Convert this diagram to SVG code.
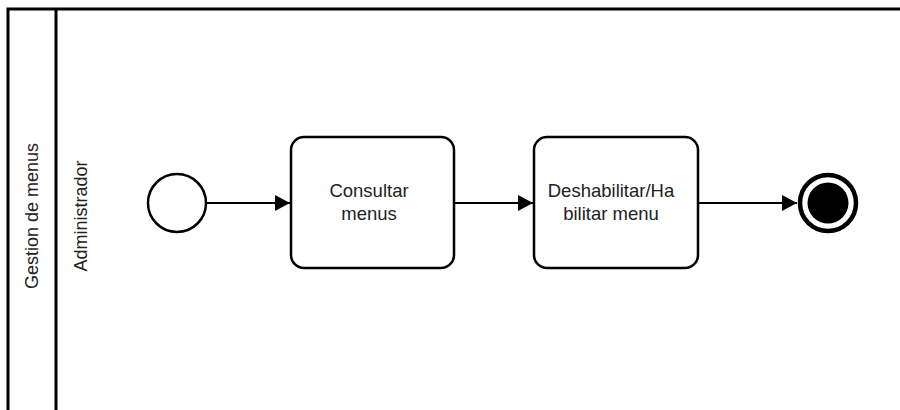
<svg xmlns="http://www.w3.org/2000/svg" width="900" height="410" viewBox="0 0 900 410">
<style>
.lane{fill:none;stroke:#000;stroke-width:3}
.task{fill:#fff;stroke:#000;stroke-width:2.5}
.lbl{font-family:"Liberation Sans",Arial,sans-serif;font-size:18.5px;fill:#222;text-anchor:middle}
.side{font-size:18px}
.edge{fill:none;stroke:#000;stroke-width:2}
</style>
<defs>
<marker id="arr" markerWidth="16" markerHeight="16" refX="15" refY="8" orient="auto" markerUnits="userSpaceOnUse">
<path d="M0,0 L15,8 L0,16 Z" fill="#000"/>
</marker>
</defs>
<rect width="900" height="410" fill="#fff"/>
<g id="pool">
<path class="lane" d="M8,420 V9 H910"/>
<path class="lane" d="M56,9 V420"/>
<text class="lbl side" transform="translate(38,216) rotate(-90)">Gestion de menus</text>
</g>
<g id="lane-admin">
<text class="lbl side" transform="translate(87,216) rotate(-90)">Administrador</text>
</g>
<g id="connectors">
<line class="edge" x1="207" y1="203" x2="290" y2="203" marker-end="url(#arr)"/>
<line class="edge" x1="454" y1="203" x2="533" y2="203" marker-end="url(#arr)"/>
<line class="edge" x1="698" y1="203" x2="797" y2="203" marker-end="url(#arr)"/>
</g>
<g id="start">
<circle cx="177" cy="203" r="29" fill="#fff" stroke="#000" stroke-width="2.5"/>
</g>
<g id="task1">
<rect class="task" x="291" y="137" width="163" height="131" rx="13"/>
<text class="lbl" x="369" y="197">Consultar</text>
<text class="lbl" x="369" y="220">menus</text>
</g>
<g id="task2">
<rect class="task" x="534" y="137" width="164" height="131" rx="13"/>
<text class="lbl" x="611" y="197">Deshabilitar/Ha</text>
<text class="lbl" x="611" y="220">bilitar menu</text>
</g>
<g id="end">
<circle cx="828" cy="203" r="28" fill="#fff" stroke="#000" stroke-width="4.5"/>
<circle cx="828" cy="203" r="20.5" fill="#000"/>
</g>
</svg>
